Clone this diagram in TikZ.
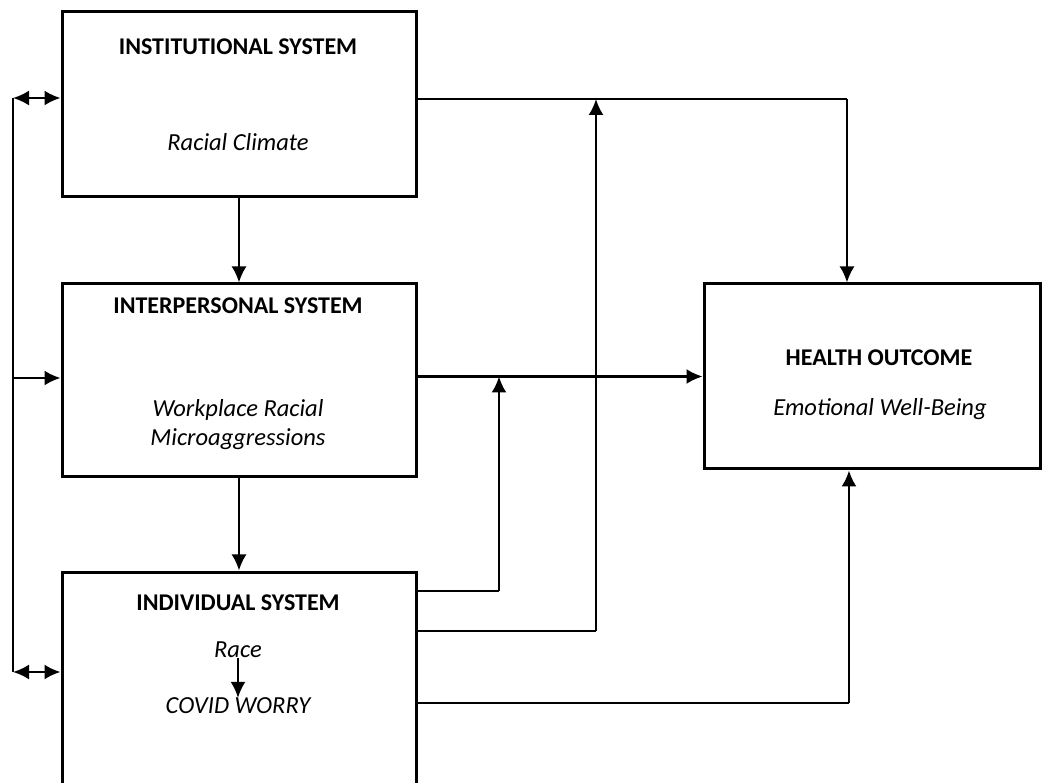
\documentclass[tikz,border=0pt]{standalone}
\usepackage{fontspec}
\setmainfont{Carlito}
\usetikzlibrary{arrows.meta}
\begin{document}
\begin{tikzpicture}[x=1pt,y=-1pt,
  box/.style={draw,line width=3pt,inner sep=0pt},
  ttl/.style={font=\fontsize{24}{28}\selectfont\bfseries,inner sep=0pt},
  sub/.style={font=\fontsize{24.5}{28}\selectfont\itshape,inner sep=0pt},
  arr/.style={line width=2.2pt,-{Latex[length=16pt,width=15pt]}},
  dbl/.style={line width=2.2pt,{Latex[length=16pt,width=15pt]}-{Latex[length=16pt,width=15pt]}},
  ln/.style={line width=1.4pt}]
\useasboundingbox (0,0) rectangle (1045,783);
\clip (0,0) rectangle (1045,783);
% boxes
\node[box,minimum width=354pt,minimum height=185pt] (inst) at (239,104.5) {};
\node[box,minimum width=354pt,minimum height=193pt] (interp) at (239,380.5) {};
\node[box,minimum width=354pt,minimum height=240pt] (indiv) at (239,692) {};
\node[box,minimum width=336pt,minimum height=185pt] (ho) at (872,376.5) {};
% texts
\node[ttl] (instT) at (238,47) {INSTITUTIONAL SYSTEM};
\node[sub] (instS) at (238,142) {Racial Climate};
\node[ttl] (interpT) at (238,306) {INTERPERSONAL SYSTEM};
\node[sub] (interpS1) at (238,410) {Workplace Racial};
\node[sub] (interpS2) at (238,439) {Microaggressions};
\node[ttl] (indivT) at (238,603) {INDIVIDUAL SYSTEM};
\node[sub] (race) at (238,650) {Race};
\node[sub] (covid) at (238,706) {COVID WORRY};
\node[ttl] (hoT) at (879,358) {HEALTH OUTCOME};
\node[sub] (hoS) at (880,409) {Emotional Well-Being};
% coordinates
\coordinate (lbT) at (13,98);
\coordinate (lbB) at (13,672);
\coordinate (lbM) at (13,378);
\coordinate (c1) at (847,99);
\coordinate (c2) at (596,631);
\coordinate (c3) at (499,591);
\coordinate (c4) at (849,703);
% vertical arrows between systems
\draw[arr] (inst.south) -- (interp.north);
\draw[arr] (interp.south) -- (indiv.north);
% left bracket
\draw[ln] (lbT) -- (lbB);
\draw[dbl] (lbT) -- (lbT -| inst.west);
\draw[dbl] (lbB) -- (lbB -| indiv.west);
\draw[arr] (lbM) -- (lbM -| interp.west);
% institutional to health outcome
\draw[ln] (c1 -| inst.east) -- (c1);
\draw[arr] (c1) -- (c1 |- ho.north);
% individual up to institutional line
\draw[ln] (c2 -| indiv.east) -- (c2);
\draw[arr] (c2) -- (c2 |- c1);
% interpersonal to health outcome
\draw[arr] (ho.west -| interp.east) -- (ho.west);
% individual to interpersonal path
\draw[ln] (c3 -| indiv.east) -- (c3);
\draw[arr] (c3) -- (c3 |- ho.west);
% individual to health outcome bottom
\draw[ln] (c4 -| indiv.east) -- (c4);
\draw[arr] (c4) -- (c4 |- ho.south);
% race to covid
\draw[arr,line width=1.8pt] (race.south) -- (covid.north);
\end{tikzpicture}
\end{document}
